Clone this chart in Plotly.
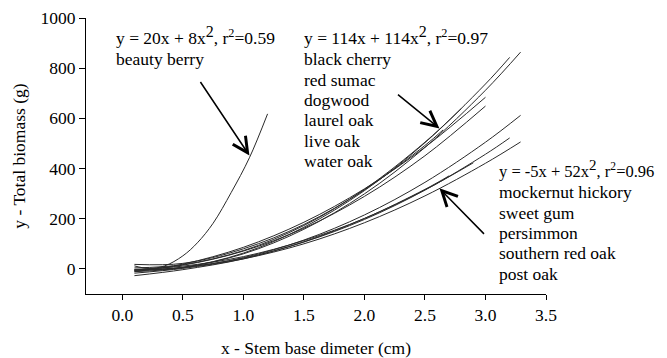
import plotly.graph_objects as go

# ---- data ----
# beauty berry
bb_x = [0.1, 0.22, 0.35, 0.5, 0.62, 0.75, 0.9, 1.05, 1.2]
bb_y = [12, 2, 12, 52, 104, 182, 305, 443, 618]

# group: black cherry, red sumac, dogwood, laurel oak, live oak, water oak
up1_x = [0.1, 0.5, 1.0, 1.5, 2.0, 2.5, 3.0, 3.29]
up1_y = [-6, 6, 60, 158, 299, 484, 712, 864]
up2_x = [0.1, 0.5, 1.0, 1.5, 2.0, 2.5, 3.0, 3.2]
up2_y = [-11, 5, 63, 166, 312, 503, 737, 843]
up3_x = [0.1, 0.5, 1.0, 1.5, 2.0, 2.5, 3.0]
up3_y = [-11, 19, 86, 186, 319, 485, 684]
up4_x = [0.1, 0.5, 1.0, 1.5, 2.0, 2.5, 3.0]
up4_y = [-4, 15, 71, 162, 289, 451, 649]
up5_x = [0.1, 0.5, 1.0, 1.5, 2.0, 2.5, 2.8]
up5_y = [4, 17, 73, 173, 317, 505, 639]
up6_x = [0.1, 0.5, 1.0, 1.5, 2.0, 2.5, 2.65]
up6_y = [18, 22, 80, 177, 315, 492, 554]

# group: mockernut hickory, sweet gum, persimmon, southern red oak, post oak
lo1_x = [0.1, 0.5, 1.0, 1.5, 2.0, 2.5, 3.0, 3.29]
lo1_y = [-5, 5, 45, 115, 215, 345, 505, 612]
lo2_x = [0.1, 0.5, 1.0, 1.5, 2.0, 2.5, 3.0, 3.2]
lo2_y = [-5, 6, 43, 107, 197, 314, 457, 522]
lo3_x = [0.1, 0.5, 1.0, 1.5, 2.0, 2.5, 3.0, 3.29]
lo3_y = [-17, 2, 40, 100, 184, 291, 421, 506]
lo4_x = [0.1, 0.5, 1.0, 1.5, 2.0, 2.5, 2.9]
lo4_y = [-2, 11, 49, 113, 201, 315, 423]
lo5_x = [0.1, 0.5, 1.0, 1.5, 2.0, 2.5, 2.7]
lo5_y = [-27, -3, 40, 108, 201, 317, 371]

curves = [
    ("beauty berry", bb_x, bb_y),
    ("group A 1", up1_x, up1_y), ("group A 2", up2_x, up2_y),
    ("group A 3", up3_x, up3_y), ("group A 4", up4_x, up4_y),
    ("group A 5", up5_x, up5_y), ("group A 6", up6_x, up6_y),
    ("group B 1", lo1_x, lo1_y), ("group B 2", lo2_x, lo2_y),
    ("group B 3", lo3_x, lo3_y), ("group B 4", lo4_x, lo4_y),
    ("group B 5", lo5_x, lo5_y),
]

x_ticks = [0.0, 0.5, 1.0, 1.5, 2.0, 2.5, 3.0, 3.5]
y_ticks = [0, 200, 400, 600, 800, 1000]

group_bb_lines = ["beauty berry"]
group_a_lines = ["black cherry", "red sumac", "dogwood", "laurel oak", "live oak", "water oak"]
group_b_lines = ["mockernut hickory", "sweet gum", "persimmon", "southern red oak", "post oak"]

FONT = "Liberation Serif, Times New Roman, serif"
FS = 17.5

def big2(size):
    return '<sup><span style="font-size:%dpx">2</span></sup>' % size

fig = go.Figure()
for name, xs, ys in curves:
    fig.add_trace(go.Scatter(x=xs, y=ys, mode="lines", name=name,
                             line=dict(color="#2a2a2a", width=1, shape="spline")))

# page body has an 8px default margin: figure is 659x350 so the page is 667x358
fig.update_layout(
    width=659, height=350,
    margin=dict(l=78, r=121, t=10, b=64),
    plot_bgcolor="white", paper_bgcolor="white",
    showlegend=False,
    font=dict(family=FONT, size=FS, color="black"),
)
fig.update_xaxes(
    range=[-0.3, 3.5], tickvals=x_ticks, ticktext=[f"{v:.1f}" for v in x_ticks],
    showline=True, linecolor="black", linewidth=1, ticks="outside", ticklen=5,
    tickcolor="black", showgrid=False, zeroline=False, automargin=False,
    tickfont=dict(family=FONT, size=FS),
    title=dict(text="x - Stem base dimeter (cm)", standoff=20, font=dict(family=FONT, size=FS)),
)
fig.update_yaxes(
    range=[-100, 1000], tickvals=y_ticks,
    showline=True, linecolor="black", linewidth=1, ticks="outside", ticklen=6,
    tickcolor="black", showgrid=False, zeroline=False, automargin=False,
    tickfont=dict(family=FONT, size=FS),
    title=dict(text="y - Total biomass (g)", standoff=10, font=dict(family=FONT, size=FS)),
)

def px_x(p):
    return (p - 86) / 460.0

def px_y(p):
    return (294 - p) / 276.0

blocks = [
    (115, 39, FS, "y = 20x + 8x" + big2(16) + ", r<sup>2</sup>=0.59", group_bb_lines),
    (303, 39, FS, "y = 114x + 114x" + big2(16) + ", r<sup>2</sup>=0.97", group_a_lines),
    (498, 172, 16.5, "y = -5x + 52x" + big2(15) + ", r<sup>2</sup>=0.96", group_b_lines),
]
STEP = 20.3
for lx, cy, efs, eq, names in blocks:
    lines = [eq] + names
    for i, t in enumerate(lines):
        yc = cy + i * STEP
        if i == 0:
            yc -= 3
        fig.add_annotation(x=px_x(lx), y=px_y(yc), xref="paper", yref="paper",
                           text=t, showarrow=False, xanchor="left", yanchor="middle",
                           align="left",
                           font=dict(family=FONT, size=(efs if i == 0 else FS), color="black"),
                           borderpad=0)

arrows = [
    (1.05, 452, -50, -75),
    (2.62, 560, -43, -35),
    (2.62, 321, 46, 47),
]
for x, y, ax, ay in arrows:
    fig.add_annotation(x=x, y=y, xref="x", yref="y", ax=ax, ay=ay, text="",
                       showarrow=True, arrowhead=5, arrowsize=2, arrowwidth=1.5,
                       arrowcolor="black")

fig.write_html("out.html")
